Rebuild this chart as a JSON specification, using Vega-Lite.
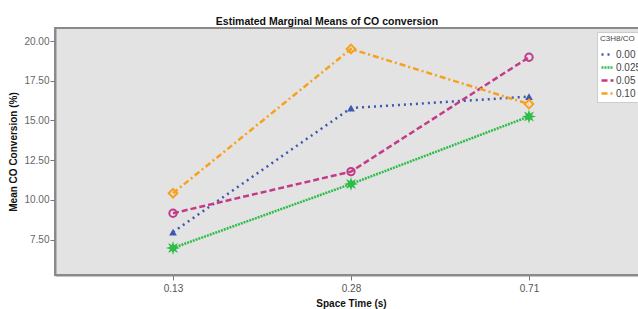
{
  "$schema": "https://vega.github.io/schema/vega-lite/v6.json",
  "autosize": {"type": "none"},
  "padding": {"left": 55, "top": 28, "right": 0, "bottom": 34},
  "width": 592,
  "height": 247,
  "background": "white",
  "title": {
    "text": "Estimated Marginal Means of CO conversion",
    "font": "Liberation Sans",
    "fontSize": 10.5,
    "fontWeight": "bold",
    "color": "#111",
    "anchor": "middle",
    "dx": -24,
    "offset": 1
  },
  "config": {
    "view": {"fill": "#e3e3e3", "stroke": "#8a8a8a", "strokeWidth": 2},
    "font": "Liberation Sans"
  },
  "data": {
    "values": [
      {"time": "0.13", "ratio": "0.00", "conv": 7.97},
      {"time": "0.28", "ratio": "0.00", "conv": 15.78},
      {"time": "0.71", "ratio": "0.00", "conv": 16.5},
      {"time": "0.13", "ratio": "0.025", "conv": 6.97},
      {"time": "0.28", "ratio": "0.025", "conv": 11.0},
      {"time": "0.71", "ratio": "0.025", "conv": 15.25},
      {"time": "0.13", "ratio": "0.05", "conv": 9.16},
      {"time": "0.28", "ratio": "0.05", "conv": 11.78},
      {"time": "0.71", "ratio": "0.05", "conv": 18.98},
      {"time": "0.13", "ratio": "0.10", "conv": 10.42},
      {"time": "0.28", "ratio": "0.10", "conv": 19.5},
      {"time": "0.71", "ratio": "0.10", "conv": 16.03}
    ]
  },
  "encoding": {
    "x": {
      "field": "time",
      "type": "ordinal",
      "sort": ["0.13", "0.28", "0.71"],
      "scale": {"type": "point", "padding": 0.663},
      "axis": {
        "title": "Space Time (s)",
        "titleFont": "Liberation Sans",
        "titleFontSize": 10,
        "titleFontWeight": "bold",
        "titleColor": "#111",
        "titlePadding": 5,
        "labelAngle": 0,
        "labelFontSize": 10,
        "labelColor": "#555",
        "labelPadding": 3,
        "tickColor": "#777",
        "tickSize": 5,
        "domainColor": "#8a8a8a",
        "domainWidth": 2,
        "grid": false
      }
    },
    "y": {
      "field": "conv",
      "type": "quantitative",
      "scale": {"domain": [5.27, 20.82], "nice": false, "zero": false},
      "axis": {
        "title": "Mean CO Conversion (%)",
        "titleFont": "Liberation Sans",
        "titleFontSize": 10,
        "titleFontWeight": "bold",
        "titleColor": "#111",
        "titlePadding": 5,
        "values": [7.5, 10, 12.5, 15, 17.5, 20],
        "format": ".2f",
        "labelFontSize": 10,
        "labelColor": "#666",
        "labelPadding": 1,
        "tickColor": "#777",
        "tickSize": 5,
        "domainColor": "#8a8a8a",
        "domainWidth": 2,
        "grid": false
      }
    }
  },
  "layer": [
    {
      "mark": {"type": "line", "strokeWidth": 2.5, "strokeCap": "butt"},
      "encoding": {
        "color": {
          "field": "ratio",
          "type": "nominal",
          "scale": {
            "domain": ["0.00", "0.025", "0.05", "0.10"],
            "range": ["#3e58b0", "#2fbd4a", "#c33b88", "#f7a11f"]
          },
          "legend": {
            "title": "C3H8/CO",
            "orient": "none",
            "legendX": 542,
            "legendY": 4,
            "titleFontSize": 8,
            "titleFontWeight": "normal",
            "titleColor": "#444",
            "titlePadding": 4,
            "labelFontSize": 10,
            "labelColor": "#444",
            "labelOffset": 1,
            "symbolType": "stroke",
            "symbolStrokeWidth": 2.5,
            "symbolSize": 144,
            "rowPadding": -1,
            "fillColor": "white",
            "strokeColor": "#cccccc",
            "padding": 3
          }
        },
        "strokeDash": {
          "field": "ratio",
          "type": "nominal",
          "scale": {
            "domain": ["0.00", "0.025", "0.05", "0.10"],
            "range": [[2, 4], [2, 1], [6, 3], [6, 3, 2, 3]]
          },
          "legend": {"title": "C3H8/CO"}
        }
      }
    },
    {
      "transform": [{"filter": "datum.ratio == '0.00'"}],
      "mark": {"type": "point", "shape": "triangle-up", "filled": true, "color": "#3e58b0", "size": 60, "opacity": 1}
    },
    {
      "transform": [{"filter": "datum.ratio == '0.025'"}],
      "mark": {"type": "point", "shape": "M1,0L0.416,0.172L0.707,0.707L0.172,0.416L0,1L-0.172,0.416L-0.707,0.707L-0.416,0.172L-1,0L-0.416,-0.172L-0.707,-0.707L-0.172,-0.416L0,-1L0.172,-0.416L0.707,-0.707L0.416,-0.172Z", "filled": true, "color": "#2fbd4a", "size": 200, "opacity": 1}
    },
    {
      "transform": [{"filter": "datum.ratio == '0.05'"}],
      "mark": {"type": "point", "shape": "circle", "filled": false, "color": "#c33b88", "size": 55, "strokeWidth": 2, "opacity": 1}
    },
    {
      "transform": [{"filter": "datum.ratio == '0.10'"}],
      "mark": {"type": "point", "shape": "diamond", "filled": false, "color": "#f7a11f", "size": 75, "strokeWidth": 2, "opacity": 1}
    }
  ]
}
